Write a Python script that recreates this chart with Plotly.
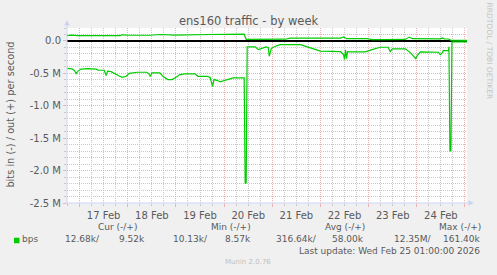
import plotly.graph_objects as go

# ---------------- data ----------------
# "in" traffic (plotted downwards, bits per second)
in_times = [
    "2026-02-16 17:45", "2026-02-16 20:15", "2026-02-16 21:30", "2026-02-16 22:15", "2026-02-16 23:15",
    "2026-02-17 00:45", "2026-02-17 04:15", "2026-02-17 08:15", "2026-02-17 09:15", "2026-02-17 12:15",
    "2026-02-17 13:15", "2026-02-17 14:00", "2026-02-17 15:45", "2026-02-17 17:15", "2026-02-17 19:15",
    "2026-02-17 21:15", "2026-02-17 23:15", "2026-02-18 00:45", "2026-02-18 04:45", "2026-02-18 09:30",
    "2026-02-18 10:30", "2026-02-18 11:15", "2026-02-18 12:00", "2026-02-18 16:00", "2026-02-18 17:30",
    "2026-02-18 20:00", "2026-02-18 22:00", "2026-02-18 23:30", "2026-02-19 02:00", "2026-02-19 04:30",
    "2026-02-19 09:30", "2026-02-19 11:00", "2026-02-19 15:30", "2026-02-19 17:00", "2026-02-19 18:15",
    "2026-02-19 19:00", "2026-02-19 20:30", "2026-02-19 22:00", "2026-02-20 00:30", "2026-02-20 03:00",
    "2026-02-20 04:30", "2026-02-20 10:00", "2026-02-20 10:30", "2026-02-20 11:00", "2026-02-20 11:30",
    "2026-02-20 15:30", "2026-02-20 17:00", "2026-02-20 21:00", "2026-02-20 22:00", "2026-02-20 22:30",
    "2026-02-20 23:30", "2026-02-21 01:30", "2026-02-21 04:00", "2026-02-21 14:00", "2026-02-21 19:00",
    "2026-02-22 00:00", "2026-02-22 10:00", "2026-02-22 11:30", "2026-02-22 12:00", "2026-02-22 12:30",
    "2026-02-22 13:00", "2026-02-22 13:30", "2026-02-22 14:45", "2026-02-22 22:15", "2026-02-23 01:45",
    "2026-02-23 05:45", "2026-02-23 09:45", "2026-02-23 10:45", "2026-02-23 11:45", "2026-02-23 18:15",
    "2026-02-23 20:45", "2026-02-23 22:45", "2026-02-23 23:30", "2026-02-24 00:15", "2026-02-24 01:45",
    "2026-02-24 10:45", "2026-02-24 11:45", "2026-02-24 12:45", "2026-02-24 13:15", "2026-02-24 15:45",
    "2026-02-24 16:00", "2026-02-24 16:30", "2026-02-24 17:00", "2026-02-24 17:30", "2026-02-25 00:45",
    "2026-02-25 01:00",
]
in_bits = [
    423e3, 431e3, 457e3, 503e3, 465e3,
    434e3, 426e3, 434e3, 449e3, 452e3,
    534e3, 465e3, 473e3, 503e3, 534e3,
    561e3, 545e3, 499e3, 483e3, 483e3,
    503e3, 550e3, 493e3, 493e3, 545e3,
    596e3, 596e3, 570e3, 519e3, 508e3,
    508e3, 545e3, 545e3, 561e3, 700e3,
    596e3, 607e3, 632e3, 607e3, 585e3,
    570e3, 570e3, 2200e3, 2190e3, 91e3,
    91e3, 133e3, 91e3, 100e3, 236e3,
    117e3, 82e3, 56e3, 56e3, 107e3,
    156e3, 164e3, 210e3, 287e3, 135e3,
    272e3, 165e3, 168e3, 168e3, 133e3,
    97e3, 97e3, 164e3, 122e3, 122e3,
    180e3, 246e3, 272e3, 225e3, 168e3,
    174e3, 210e3, 180e3, 148e3, 148e3,
    90e3, 1700e3, 1690e3, 12.7e3, 12.7e3,
    12.68e3,
]

# "out" traffic (plotted upwards, bits per second)
out_times = [
    "2026-02-16 17:45", "2026-02-16 20:15", "2026-02-16 22:45", "2026-02-17 07:45", "2026-02-17 08:15",
    "2026-02-17 10:15", "2026-02-17 20:15", "2026-02-17 21:15", "2026-02-18 00:15", "2026-02-18 11:15",
    "2026-02-18 16:15", "2026-02-18 23:30", "2026-02-19 14:30", "2026-02-19 16:00", "2026-02-20 10:00",
    "2026-02-20 11:00", "2026-02-21 06:30", "2026-02-21 09:00", "2026-02-22 10:00", "2026-02-22 11:30",
    "2026-02-22 13:00", "2026-02-22 23:15", "2026-02-23 01:45", "2026-02-23 05:45", "2026-02-23 07:15",
    "2026-02-23 18:15", "2026-02-23 20:15", "2026-02-23 21:45", "2026-02-24 01:45", "2026-02-24 11:45",
    "2026-02-24 12:45", "2026-02-24 13:45", "2026-02-24 15:45", "2026-02-24 16:45", "2026-02-25 00:45",
    "2026-02-25 01:00",
]
out_bits = [
    83e3, 90e3, 83e3, 83e3, 88e3,
    83e3, 83e3, 95e3, 88e3, 88e3,
    100e3, 90e3, 90e3, 100e3, 105e3,
    25e3, 27e3, 45e3, 45e3, 62e3,
    35e3, 35e3, 22e3, 18e3, 22e3,
    24e3, 60e3, 35e3, 32e3, 32e3,
    47e3, 32e3, 30e3, 14e3, 9.5e3,
    9.52e3,
]

y_tick_vals = [0, -0.5e6, -1.0e6, -1.5e6, -2.0e6, -2.5e6]
y_tick_text = ["0.0", "-0.5 M", "-1.0 M", "-1.5 M", "-2.0 M", "-2.5 M"]

stat_headers = ["Cur (-/+)", "Min (-/+)", "Avg (-/+)", "Max (-/+)"]
stat_in = ["12.68k/", "10.13k/", "316.64k/", "12.35M/"]
stat_out = ["9.52k", "8.57k", "58.00k", "161.40k"]
series_name = "bps"
title_text = "ens160 traffic - by week"
y_title = "bits in (-) / out (+) per second"
last_update = "Last update: Wed Feb 25 01:00:00 2026"
footer = "Munin 2.0.76"
side_text = "RRDTOOL / TOBI OETIKER"

# ---------------- layout geometry (pixels) ----------------
W, H = 497, 275
PL, PR, PT, PB = 67, 467, 28.45, 203.3
GREEN = "#00cc00"
TXT = "#5a5a5a"
FONT = "DejaVu Sans"


def px2x(px):
    return (px - PL) / (PR - PL)


def px2y(py):
    return (PB - py) / (PB - PT)


fig = go.Figure()
fig.add_trace(go.Scatter(x=in_times, y=[-v for v in in_bits], mode="lines",
                         line=dict(color=GREEN, width=1.2), showlegend=False,
                         hoverinfo="skip"))
fig.add_trace(go.Scatter(x=out_times, y=out_bits, mode="lines",
                         line=dict(color=GREEN, width=1.2), showlegend=False,
                         hoverinfo="skip"))

RED_GRID = "#f0b0b0"
GRAY_GRID = "#c8c8c8"
AXIS = "#cdd3f3"

fig.update_xaxes(
    type="date",
    range=["2026-02-16 17:45", "2026-02-25 01:00"],
    tick0="2026-02-17 00:00", dtick=86400000,
    tickformat="%d %b", ticklabelmode="period",
    showgrid=True, gridcolor=RED_GRID, griddash="1px,1px", gridwidth=1,
    ticks="outside", ticklen=3, tickcolor=RED_GRID,
    minor=dict(dtick=21600000, showgrid=True, gridcolor=GRAY_GRID,
               griddash="1px,1px", ticks="outside", ticklen=2, tickcolor=GRAY_GRID),
    tickfont=dict(family=FONT, size=10, color=TXT),
    showline=False, zeroline=False, fixedrange=True,
)
fig.update_yaxes(
    range=[-2.5e6, 0.2e6],
    tickvals=y_tick_vals, ticktext=y_tick_text,
    showgrid=True, gridcolor=RED_GRID, griddash="1px,1px", gridwidth=1,
    ticks="outside", ticklen=3, tickcolor=RED_GRID,
    minor=dict(dtick=1e5, tick0=0, showgrid=True, gridcolor=GRAY_GRID,
               griddash="1px,1px", ticks="outside", ticklen=2, tickcolor=GRAY_GRID),
    tickfont=dict(family=FONT, size=10, color=TXT),
    zeroline=True, zerolinecolor="#000000", zerolinewidth=1.5,
    showline=False, fixedrange=True,
)

shapes = []
# axis lines with arrows
shapes.append(dict(type="line", xref="paper", yref="paper",
                   x0=px2x(PL), x1=px2x(PL), y0=px2y(PB + 1), y1=px2y(24),
                   line=dict(color=AXIS, width=1), layer="above"))
shapes.append(dict(type="line", xref="paper", yref="paper",
                   x0=px2x(PL - 2), x1=px2x(470), y0=px2y(PB), y1=px2y(PB),
                   line=dict(color=AXIS, width=1), layer="above"))
shapes.append(dict(type="path", xref="paper", yref="paper",
                   path="M %f %f L %f %f L %f %f Z" % (
                       px2x(PL), px2y(20.5), px2x(PL - 2.8), px2y(26), px2x(PL + 2.8), px2y(26)),
                   fillcolor=AXIS, line=dict(width=0), layer="above"))
shapes.append(dict(type="path", xref="paper", yref="paper",
                   path="M %f %f L %f %f L %f %f Z" % (
                       px2x(474), px2y(PB), px2x(468.5), px2y(PB - 2.8), px2x(468.5), px2y(PB + 2.8)),
                   fillcolor=AXIS, line=dict(width=0), layer="above"))
# legend colour square
shapes.append(dict(type="rect", xref="paper", yref="paper",
                   x0=px2x(14), x1=px2x(19.5), y0=px2y(243.5), y1=px2y(238),
                   fillcolor=GREEN, line=dict(width=0), layer="above"))

ann = []


def text(s, px, py, size, color=TXT, xanchor="center", angle=0):
    ann.append(dict(text=s, x=px2x(px), y=px2y(py), xref="paper", yref="paper",
                    showarrow=False, xanchor=xanchor, yanchor="middle",
                    textangle=angle, font=dict(family=FONT, size=size, color=color)))


text(title_text, 248.5, 21, 11.5)
text(y_title, 11, 115, 9.8, angle=-90)
text(side_text, 489, 51, 7.5, color="#c4c4c4", angle=90)

header_cx = [117.5, 231, 344.5, 460]
in_right = [101.7, 210, 319.3, 434]
out_right = [146.7, 252.7, 366, 482.3]
for i in range(4):
    text(stat_headers[i], header_cx[i], 227, 9)
    text(stat_in[i], in_right[i], 239.5, 9, xanchor="right")
    text(stat_out[i], out_right[i], 239.5, 9, xanchor="right")
text(series_name, 20, 239.5, 9, xanchor="left")
text(last_update, 482.3, 251, 9, xanchor="right")
text(footer, 248, 262, 7, color="#c0c0c0")

fig.update_layout(
    width=W, height=H,
    margin=dict(l=PL, r=W - PR, t=PT, b=H - PB, pad=0),
    paper_bgcolor="#f0f0f0", plot_bgcolor="#ffffff",
    shapes=shapes, annotations=ann, showlegend=False,
)

fig.write_html("out.html", config={"displayModeBar": False})
